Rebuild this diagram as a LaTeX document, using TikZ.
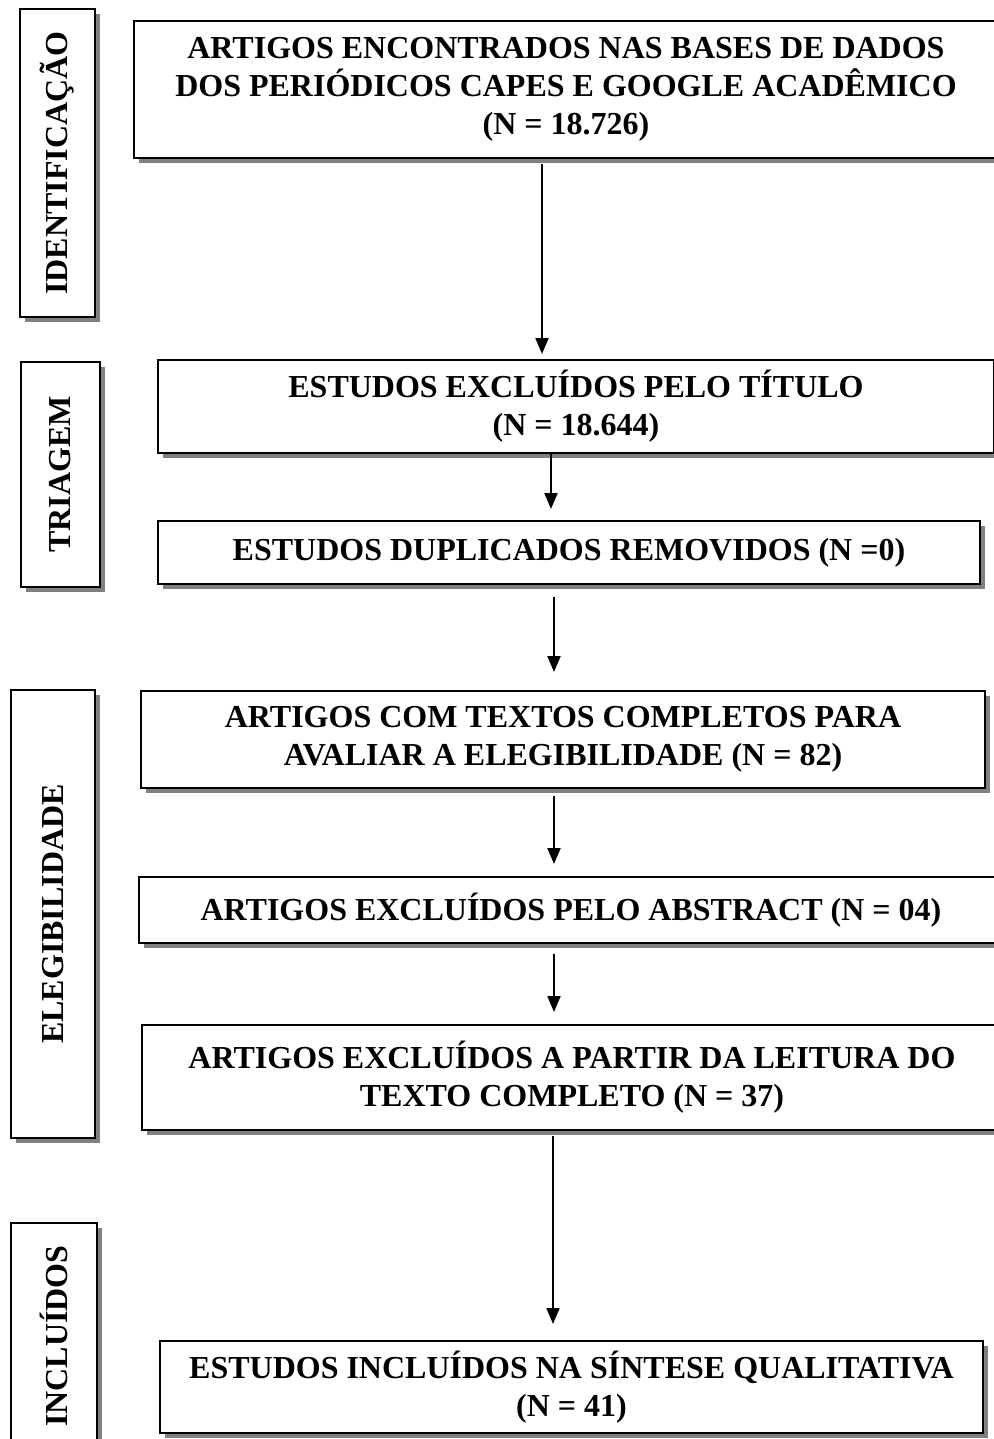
\documentclass[tikz,border=0pt]{standalone}
\usepackage{fontspec}
\setmainfont{Liberation Serif}
\usetikzlibrary{arrows.meta,shadows,calc}
\begin{document}
\begin{tikzpicture}[x=1pt,y=-1pt,
  txt/.style={font=\bfseries\fontsize{32}{38}\selectfont},
  box/.style={draw=black, line width=2pt, fill=white, inner sep=0pt, align=center, txt,
    drop shadow={shadow xshift=5pt, shadow yshift=-5pt, fill=gray, opacity=1}},
  sidetext/.style={txt, rotate=90, inner sep=0pt},
  arr/.style={line width=2pt, -{Triangle[length=16pt,width=13pt]}}]
\fill[white] (0,0) rectangle (993,1439);
\useasboundingbox (0,0) rectangle (993,1439);
% side boxes
\node[box, minimum width=75pt, minimum height=308pt] (s1) at (57.5,163) {};
\node[sidetext] at (s1) {IDENTIFICAÇÃO};
\node[box, minimum width=79pt, minimum height=225pt] (s2) at (60.5,474.5) {};
\node[sidetext] at (s2) {TRIAGEM};
\node[box, minimum width=84pt, minimum height=448pt] (s3) at (53,914) {};
\node[sidetext] at (s3) {ELEGIBILIDADE};
\node[box, minimum width=86pt, minimum height=226pt] (s4) at (54,1336) {};
\node[sidetext] at (s4) {INCLUÍDOS};
% main boxes
\node[box, minimum width=864pt, minimum height=137pt] (b1) at (566,89.5)
  {ARTIGOS ENCONTRADOS NAS BASES DE DADOS\\DOS PERIÓDICOS CAPES E GOOGLE ACADÊMICO\\(N = 18.726)};
\node[box, minimum width=836pt, minimum height=93pt] (b2) at (576,406.5)
  {ESTUDOS EXCLUÍDOS PELO TÍTULO\\(N = 18.644)};
\node[box, minimum width=822pt, minimum height=63pt] (b3) at (569,552.5)
  {ESTUDOS DUPLICADOS REMOVIDOS (N =0)};
\node[box, minimum width=844pt, minimum height=97pt] (b4) at (563,739.5)
  {ARTIGOS COM TEXTOS COMPLETOS PARA\\AVALIAR A ELEGIBILIDADE (N = 82)};
\node[box, minimum width=864pt, minimum height=66pt] (b5) at (571,910)
  {ARTIGOS EXCLUÍDOS PELO ABSTRACT (N = 04)};
\node[box, minimum width=860pt, minimum height=105pt] (b6) at (572,1077.5)
  {ARTIGOS EXCLUÍDOS A PARTIR DA LEITURA DO\\TEXTO COMPLETO (N = 37)};
\node[box, minimum width=823pt, minimum height=92pt] (b7) at (571.5,1387)
  {ESTUDOS INCLUÍDOS NA SÍNTESE QUALITATIVA\\(N = 41)};
% arrow columns
\coordinate (x1) at (542,0);
\coordinate (x2) at (551,0);
\coordinate (x3) at (554,0);
\coordinate (x6) at (553,0);
\draw[arr] ($(b1.south -| x1)+(0,5)$) -- ($(b2.north -| x1)+(0,-5)$);
\draw[arr] ($(b2.south -| x2)+(0,0)$) -- ($(b3.north -| x2)+(0,-11)$);
\draw[arr] ($(b3.south -| x3)+(0,12)$) -- ($(b4.north -| x3)+(0,-18)$);
\draw[arr] ($(b4.south -| x3)+(0,7)$) -- ($(b5.north -| x3)+(0,-12)$);
\draw[arr] ($(b5.south -| x3)+(0,10)$) -- ($(b6.north -| x3)+(0,-12)$);
\draw[arr] ($(b6.south -| x6)+(0,5)$) -- ($(b7.north -| x6)+(0,-16)$);
\end{tikzpicture}
\end{document}
